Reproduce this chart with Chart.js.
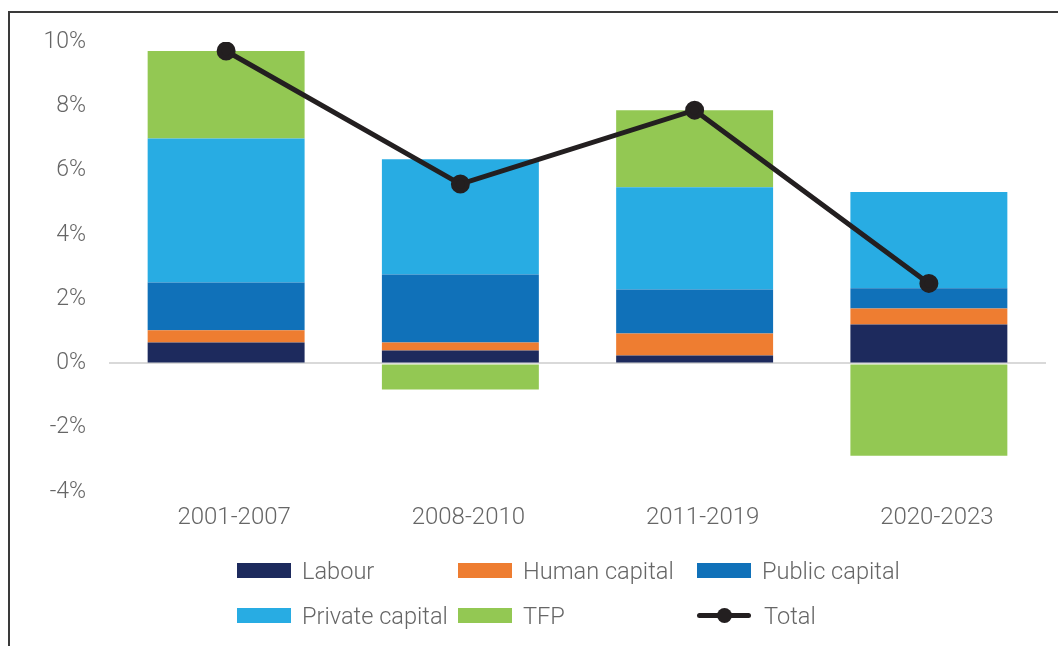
<!DOCTYPE html>
<html>
<head>
<meta charset="utf-8">
<script src="https://cdn.jsdelivr.net/npm/chart.js@4.4.1/dist/chart.umd.min.js"></script>
<style>
  html, body { margin: 0; padding: 0; background: #fff; }
  #wrap { position: relative; width: 1058px; height: 646px; overflow: hidden; }
  #frame { position: absolute; left: 8px; top: 11px; right: -2px; bottom: -2px;
           border-top: 2px solid #3a3a3a; border-left: 2px solid #3a3a3a; }
  #marketChart { position: absolute; left: 0; top: 0; }
  #legend { position: absolute; left: 237px; top: 548px;
            display: grid; grid-template-columns: 221px 239px auto; grid-auto-rows: 45px;
            font-family: Roboto, sans-serif; font-weight: 300; font-size: 23.6px; color: #666; }
  .item { display: flex; align-items: center; white-space: nowrap; }
  .swatch { width: 54px; height: 15px; margin-right: 11px; }
  .lineKey { position: relative; width: 54px; height: 15px; margin-right: 13px; }
  .lineKey::before { content: ""; position: absolute; left: 0; right: 0; top: 5px; height: 5px;
                     background: #231f20; border-radius: 3px; }
  .lineKey::after { content: ""; position: absolute; left: 20px; top: 0; width: 15px; height: 15px;
                    background: #231f20; border-radius: 50%; }
</style>
</head>
<body>
<div id="wrap">
  <div id="frame"></div>
  <canvas id="marketChart" width="1058" height="646"></canvas>
  <div id="legend"></div>
</div>
<script>
const periods = ["2001-2007", "2008-2010", "2011-2019", "2020-2023"];
const labour = [0.65, 0.40, 0.25, 1.21];
const humanCapital = [0.38, 0.25, 0.68, 0.50];
const publicCapital = [1.49, 2.12, 1.37, 0.63];
const privateCapital = [4.48, 3.58, 3.18, 2.99];
const tfp = [2.72, -0.81, 2.40, -2.87];
const total = [9.72, 5.58, 7.88, 2.49];
const yTicks = [-4, -2, 0, 2, 4, 6, 8, 10];

const bars = [
  { label: "Labour", data: labour, color: "#1d2a5d" },
  { label: "Human capital", data: humanCapital, color: "#ee7d31" },
  { label: "Public capital", data: publicCapital, color: "#1071b9" },
  { label: "Private capital", data: privateCapital, color: "#28ace3" },
  { label: "TFP", data: tfp, color: "#93c853" }
];

const ctx = document.getElementById("marketChart").getContext("2d");
new Chart(ctx, {
  data: {
    labels: periods,
    datasets: [
      { type: "line", label: "Total", data: total, stack: "total", order: 0,
        borderColor: "#231f20", backgroundColor: "#231f20", borderWidth: 5,
        pointRadius: 7, pointHoverRadius: 7, tension: 0 },
      ...bars.map(b => ({ type: "bar", label: b.label, data: b.data, stack: "parts", order: 1,
        backgroundColor: b.color, barPercentage: 0.67, categoryPercentage: 1 }))
    ]
  },
  options: {
    responsive: false, animation: false,
    layout: { padding: { top: 42, right: 8, bottom: 94, left: 0 } },
    plugins: { legend: { display: false }, tooltip: { enabled: false } },
    scales: {
      x: {
        stacked: true,
        grid: { display: false, drawTicks: false },
        border: { display: false },
        ticks: { color: "#666", font: { family: "Roboto", weight: 300, size: 24 },
                 padding: 12, labelOffset: 8 },
        afterFit: s => { s.height = 60; }
      },
      y: {
        stacked: true, min: -4, max: 10,
        afterBuildTicks: s => { s.ticks = yTicks.map(v => ({ value: v })); },
        afterFit: s => { s.width = 109; },
        grid: { drawTicks: false, lineWidth: 2,
                color: c => c.tick && c.tick.value === 0 ? "#d9d9d9" : "rgba(0,0,0,0)" },
        border: { display: false },
        ticks: { color: "#666", font: { family: "Roboto", weight: 300, size: 23 },
                 padding: 23, callback: v => v + "%" }
      }
    }
  }
});

// legend laid out in a fixed three-column grid
const legendEl = document.getElementById("legend");
bars.forEach(b => {
  legendEl.insertAdjacentHTML("beforeend",
    `<div class="item"><span class="swatch" style="background:${b.color}"></span>${b.label}</div>`);
});
legendEl.insertAdjacentHTML("beforeend", `<div class="item"><span class="lineKey"></span>Total</div>`);
</script>
</body>
</html>
